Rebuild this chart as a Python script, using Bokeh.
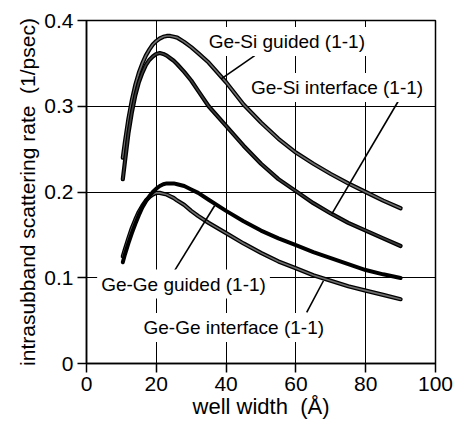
from bokeh.plotting import figure
from bokeh.models import Label, FixedTicker, Range1d
from bokeh.embed import file_html
from bokeh.resources import INLINE

# well width (Angstrom)
well_width = [10.4, 11, 12, 13, 14, 15, 16, 17, 18, 19, 20, 21, 22, 23, 24, 25, 26, 28, 30, 32,
              35, 40, 45, 50, 55, 60, 65, 70, 75, 80, 85, 90]

ge_si_guided = [0.240, 0.258, 0.285, 0.307, 0.325, 0.339, 0.350, 0.359, 0.366, 0.372, 0.376, 0.379,
                0.381, 0.382, 0.382, 0.381, 0.380, 0.375, 0.369, 0.362, 0.351, 0.328, 0.302, 0.281,
                0.262, 0.246, 0.233, 0.221, 0.210, 0.200, 0.190, 0.181]

ge_si_interface = [0.215, 0.235, 0.268, 0.293, 0.313, 0.328, 0.339, 0.348, 0.354, 0.358, 0.361, 0.362,
                   0.361, 0.359, 0.356, 0.353, 0.349, 0.340, 0.330, 0.318, 0.300, 0.277, 0.254, 0.233,
                   0.215, 0.201, 0.187, 0.175, 0.164, 0.155, 0.146, 0.137]

ge_ge_guided = [0.118, 0.127, 0.140, 0.152, 0.163, 0.173, 0.182, 0.189, 0.195, 0.200, 0.204, 0.207,
                0.209, 0.210, 0.210, 0.210, 0.209, 0.207, 0.203, 0.199, 0.191, 0.178, 0.166, 0.155,
                0.146, 0.138, 0.130, 0.123, 0.116, 0.109, 0.104, 0.0997]

ge_ge_interface = [0.125, 0.133, 0.146, 0.158, 0.168, 0.177, 0.184, 0.190, 0.194, 0.197, 0.199, 0.199,
                   0.198, 0.197, 0.195, 0.193, 0.190, 0.185, 0.178, 0.172, 0.164, 0.152, 0.140, 0.129,
                   0.119, 0.111, 0.103, 0.0965, 0.090, 0.085, 0.080, 0.075]

x_ticks = [0, 20, 40, 60, 80, 100]
y_ticks = [0, 0.1, 0.2, 0.3, 0.4]
y_tick_labels = ["0", "0.1", "0.2", "0.3", "0.4"]

series_names = ["Ge-Si guided (1-1)", "Ge-Si interface (1-1)", "Ge-Ge guided (1-1)", "Ge-Ge interface (1-1)"]
# label centres (data coords) and leader lines (from label to curve)
label_x = [57.4, 71.8, 27.8, 42.2]
label_y = [0.3755, 0.322, 0.0927, 0.042]
lead_x0 = [48.2, 90.0, 25.2, 63.1]
lead_y0 = [0.359, 0.3105, 0.108, 0.0595]
lead_x1 = [38.6, 70.3, 36.7, 67.9]
lead_y1 = [0.332, 0.1744, 0.184, 0.0965]

FONT = "Liberation Sans"

p = figure(width=461, height=423, output_backend="svg", toolbar_location=None,
           x_range=Range1d(0, 100), y_range=Range1d(0, 0.4),
           min_border_left=86, min_border_right=26, min_border_top=20, min_border_bottom=60)
p.background_fill_color = "white"
p.border_fill_color = "white"
p.outline_line_color = "black"
p.outline_line_width = 1.5

for ax in (p.xaxis[0], p.yaxis[0]):
    ax.axis_line_color = "black"
    ax.axis_line_width = 1.5
    ax.major_tick_line_color = "black"
    ax.major_tick_line_width = 1.5
    ax.major_tick_in = 0
    ax.major_tick_out = 9
    ax.minor_tick_line_color = None
    ax.major_label_text_font = FONT
    ax.major_label_text_font_size = "21px"
    ax.major_label_text_color = "black"
    ax.axis_label_text_font = FONT
    ax.axis_label_text_font_style = "normal"
    ax.axis_label_text_color = "black"

p.xaxis.ticker = FixedTicker(ticks=x_ticks)
p.yaxis.ticker = FixedTicker(ticks=y_ticks)
p.yaxis.major_label_overrides = {t: s for t, s in zip(y_ticks, y_tick_labels)}
p.xaxis.major_label_standoff = 4
p.yaxis.major_label_standoff = 4
p.xaxis.axis_label = "well width\u00a0 (\u00c5)"
p.yaxis.axis_label = "intrasubband scattering rate\u00a0 (1/psec)"
p.xaxis.axis_label_text_font_size = "22px"
p.yaxis.axis_label_text_font_size = "21px"
p.xaxis.axis_label_standoff = 0
p.yaxis.axis_label_standoff = 2

p.xgrid.ticker = FixedTicker(ticks=[20, 40, 60, 80])
p.ygrid.ticker = FixedTicker(ticks=[0.1, 0.2, 0.3])
for g in (p.xgrid[0], p.ygrid[0]):
    g.grid_line_color = "black"
    g.grid_line_alpha = 1.0
    g.grid_line_width = 1

# curves: textured grey ones drawn as black outline with grey core
def textured(ys, core):
    p.line(well_width, ys, line_color="black", line_width=4.2, line_cap="round", line_join="round")
    p.line(well_width, ys, line_color=core, line_width=1.6, line_cap="round", line_join="round")

textured(ge_si_guided, "#6e6e6e")
textured(ge_si_interface, "#3c3c3c")
textured(ge_ge_interface, "#6e6e6e")
p.line(well_width, ge_ge_guided, line_color="black", line_width=4.0, line_cap="round", line_join="round")

p.segment(x0=lead_x0, y0=lead_y0, x1=lead_x1, y1=lead_y1, line_color="black", line_width=1.6)

for name, lx, ly in zip(series_names, label_x, label_y):
    p.add_layout(Label(x=lx, y=ly, text=name, text_align="center", text_baseline="middle",
                       text_font=FONT, text_font_size="19px", text_color="black",
                       background_fill_color="white", background_fill_alpha=1.0, padding=4))

open("out.html", "w").write(file_html(p, INLINE))
